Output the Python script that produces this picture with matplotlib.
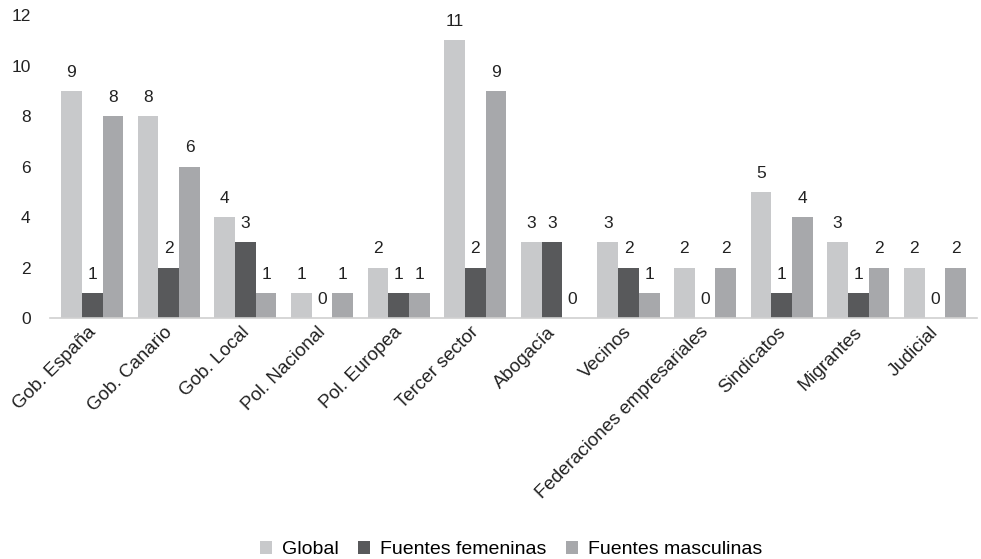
import numpy as np
import matplotlib
matplotlib.use("Agg")
from matplotlib import pyplot as plt
from matplotlib.transforms import ScaledTranslation

plt.rcParams["font.family"] = ["Liberation Sans", "DejaVu Sans"]

categories = ["Gob. España", "Gob. Canario", "Gob. Local", "Pol. Nacional",
              "Pol. Europea", "Tercer sector", "Abogacía", "Vecinos",
              "Federaciones empresariales", "Sindicatos", "Migrantes", "Judicial"]
global_vals = [9, 8, 4, 1, 2, 11, 3, 3, 2, 5, 3, 2]
femeninas = [1, 2, 3, 0, 1, 2, 3, 2, 0, 1, 1, 0]
masculinas = [8, 6, 1, 1, 1, 9, 0, 1, 2, 4, 2, 2]

series = [
    ("Global", global_vals, "#c8c9cb"),
    ("Fuentes femeninas", femeninas, "#58595b"),
    ("Fuentes masculinas", masculinas, "#a7a8ab"),
]

fig = plt.figure(figsize=(9.81, 5.59), dpi=100)
ax = fig.add_axes([0.051, 0.431, 0.945, 0.542])

x = np.arange(len(categories))
width = 0.27
for i, (name, vals, color) in enumerate(series):
    bars = ax.bar(x + (i - 1) * width, vals, width, color=color, label=name)
    ax.bar_label(bars, padding=8, fontsize=12.5, color="#222222")

ax.set_ylim(0, 12)
ax.set_xlim(-0.55, len(categories) - 0.45)
ax.set_yticks(range(0, 13, 2))
ax.tick_params(axis="y", length=0, labelsize=12.5, pad=14, colors="#222222")
ax.tick_params(axis="x", length=0, labelsize=13.5, pad=4, colors="#222222")
ax.set_xticks(x)
ax.set_xticklabels(categories, rotation=45, ha="right", rotation_mode="anchor")
# nudge rotated labels so they end right under the group centre
shift = ScaledTranslation(-5 / 100, 0, fig.dpi_scale_trans)
for lbl in ax.get_xticklabels():
    lbl.set_transform(lbl.get_transform() + shift)

for side in ["top", "right", "left"]:
    ax.spines[side].set_visible(False)
ax.spines["bottom"].set_color("#d0d0d0")
ax.spines["bottom"].set_linewidth(1.2)

fig.legend(loc="lower center", bbox_to_anchor=(0.521, -0.03), ncol=3,
           frameon=False, fontsize=14, handlelength=0.62, handleheight=0.62,
           handletextpad=0.5, columnspacing=1.0)

fig.savefig("out.png", dpi=100)
